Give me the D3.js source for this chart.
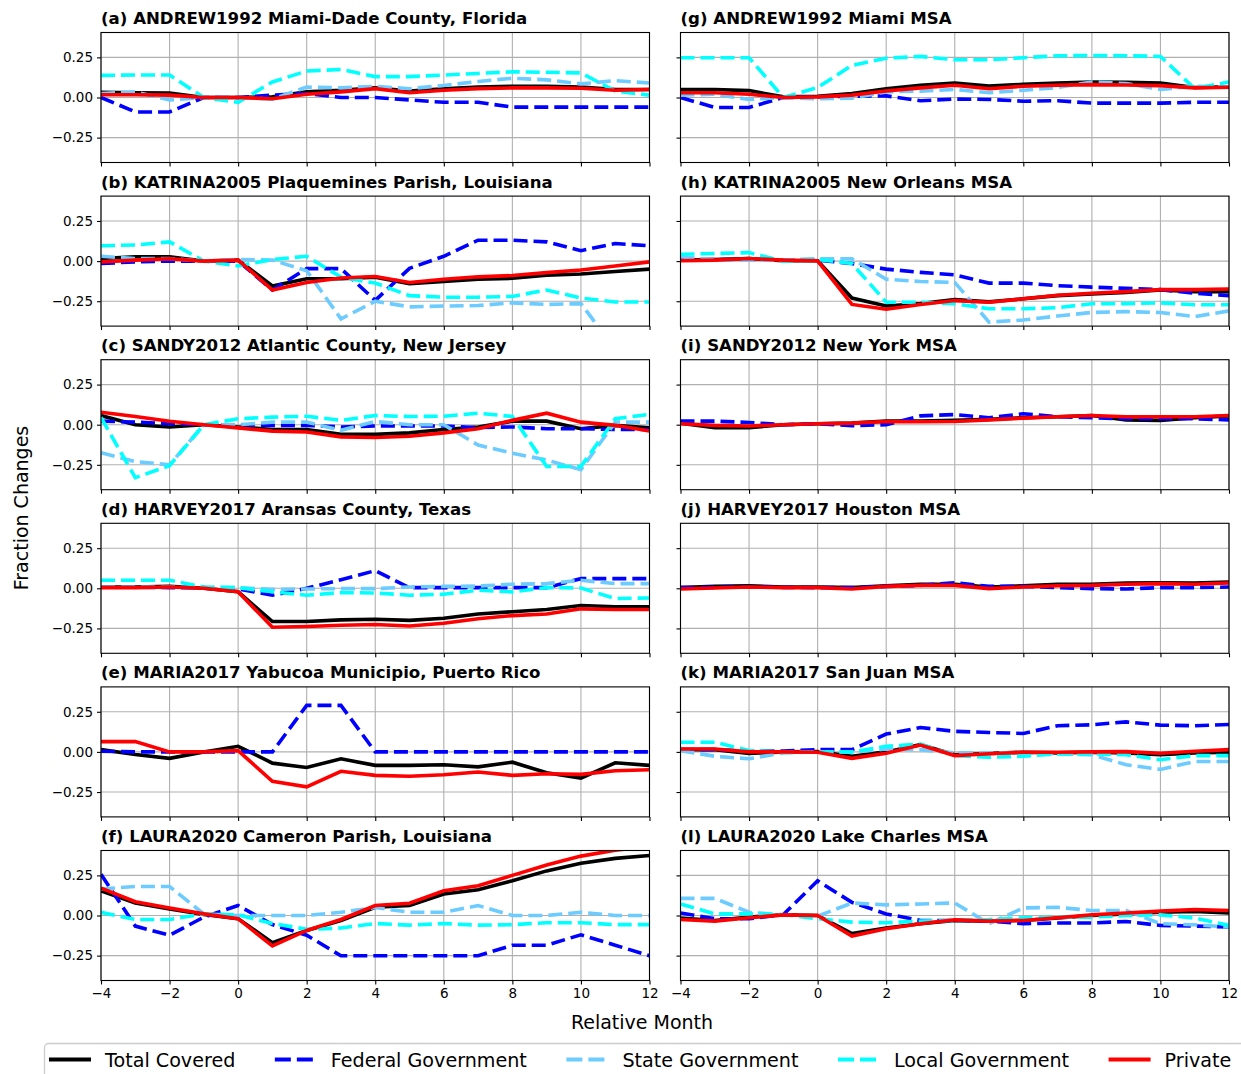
<!DOCTYPE html>
<html>
<head>
<meta charset="utf-8">
<script src="https://cdn.jsdelivr.net/npm/d3@7"></script>
<style>
  body { margin: 0; background: #fff; }
  svg { display: block; font-family: "DejaVu Sans", sans-serif; }
</style>
</head>
<body>
<svg id="svg" width="1241" height="1074"></svg>
<script>

// relative month (x axis)
var months = [-4, -3, -2, -1, 0, 1, 2, 3, 4, 5, 6, 7, 8, 9, 10, 11, 12];
var xTicks = [-4, -2, 0, 2, 4, 6, 8, 10, 12];
var yTicks = [-0.25, 0, 0.25];

var seriesNames = ["Total Covered", "Federal Government", "State Government", "Local Government", "Private"];
var seriesColors = ["#000000", "#0000ff", "#6ccbff", "#00ffff", "#ff0000"];
var seriesDashed = [false, true, true, true, false];

var titles = [
  "(a) ANDREW1992 Miami-Dade County, Florida",
  "(b) KATRINA2005 Plaquemines Parish, Louisiana",
  "(c) SANDY2012 Atlantic County, New Jersey",
  "(d) HARVEY2017 Aransas County, Texas",
  "(e) MARIA2017 Yabucoa Municipio, Puerto Rico",
  "(f) LAURA2020 Cameron Parish, Louisiana",
  "(g) ANDREW1992 Miami MSA",
  "(h) KATRINA2005 New Orleans MSA",
  "(i) SANDY2012 New York MSA",
  "(j) HARVEY2017 Houston MSA",
  "(k) MARIA2017 San Juan MSA",
  "(l) LAURA2020 Lake Charles MSA"
];

// (a) Miami-Dade County
var aTotal   = [0.033,0.03,0.027,0,0,0.005,0.035,0.045,0.06,0.04,0.055,0.065,0.07,0.07,0.065,0.05,0.05];
var aFederal = [0,-0.09,-0.09,0,0,0.015,0.025,0,0,-0.015,-0.03,-0.03,-0.06,-0.06,-0.06,-0.06,-0.06];
var aState   = [0.025,0.035,-0.015,0,0,-0.01,0.065,0.06,0.07,0.055,0.075,0.1,0.12,0.11,0.085,0.105,0.09];
var aLocal   = [0.138,0.14,0.14,0,-0.03,0.097,0.165,0.175,0.13,0.13,0.14,0.15,0.16,0.157,0.153,0.04,0.015];
var aPrivate = [0.017,0.017,0.015,0,0,-0.008,0.02,0.035,0.055,0.03,0.045,0.055,0.06,0.06,0.058,0.045,0.05];

// (b) Plaquemines Parish
var bTotal   = [0.016,0.027,0.027,0,0.006,-0.155,-0.11,-0.11,-0.1,-0.14,-0.127,-0.113,-0.107,-0.088,-0.08,-0.065,-0.05];
var bFederal = [-0.015,-0.005,0,0,0,-0.18,-0.047,-0.047,-0.245,-0.045,0.03,0.13,0.13,0.12,0.065,0.11,0.095];
var bState   = [0.03,0.016,0.016,0,0.01,0.006,-0.06,-0.36,-0.25,-0.285,-0.28,-0.277,-0.26,-0.27,-0.265,-0.55,-0.55];
var bLocal   = [0.096,0.1,0.12,0,-0.03,0.01,0.03,-0.1,-0.137,-0.215,-0.225,-0.225,-0.22,-0.18,-0.23,-0.255,-0.255];
var bPrivate = [-0.005,0.006,0.015,0,0.006,-0.18,-0.133,-0.105,-0.096,-0.133,-0.113,-0.098,-0.09,-0.072,-0.055,-0.03,-0.005];

// (c) Atlantic County
var cTotal   = [0.057,0,-0.014,0,-0.014,-0.03,-0.03,-0.06,-0.06,-0.051,-0.03,-0.014,0.022,0.022,-0.025,-0.004,-0.02];
var cFederal = [0.022,0.016,0.006,0,0,-0.004,-0.004,-0.014,-0.008,-0.008,-0.008,-0.018,-0.014,-0.025,-0.025,-0.03,-0.03];
var cState   = [-0.174,-0.23,-0.25,0,0,0.016,0.016,-0.035,0.02,0,0,-0.127,-0.178,-0.22,-0.28,0.016,0.016];
var cLocal   = [0.045,-0.33,-0.255,0,0.037,0.047,0.053,0.027,0.057,0.051,0.053,0.072,0.051,-0.26,-0.26,0.037,0.064];
var cPrivate = [0.078,0.051,0.022,0,-0.02,-0.04,-0.045,-0.076,-0.08,-0.072,-0.051,-0.025,0.027,0.072,0.016,-0.004,-0.039];

// (d) Aransas County
var dTotal   = [0.008,0.008,0.012,0,-0.022,-0.207,-0.207,-0.197,-0.193,-0.2,-0.187,-0.16,-0.146,-0.132,-0.107,-0.115,-0.115];
var dFederal = [0.008,0.008,0.004,0.004,-0.004,-0.043,0,0.053,0.11,0.004,0.004,0.004,0.004,0.004,0.06,0.06,0.06];
var dState   = [0.008,0.008,0.008,0.004,0.004,-0.006,-0.004,-0.002,-0.002,0.008,0.012,0.014,0.025,0.029,0.05,0.029,0.029];
var dLocal   = [0.05,0.05,0.05,0.008,0.004,-0.022,-0.043,-0.027,-0.029,-0.043,-0.037,-0.012,-0.022,0.004,0.002,-0.064,-0.06];
var dPrivate = [0.004,0.004,0.008,0,-0.022,-0.243,-0.238,-0.23,-0.226,-0.235,-0.218,-0.19,-0.17,-0.16,-0.128,-0.132,-0.132];

// (e) Yabucoa Municipio
var eTotal   = [0.014,-0.016,-0.04,0,0.035,-0.07,-0.097,-0.043,-0.084,-0.084,-0.08,-0.093,-0.064,-0.13,-0.163,-0.068,-0.084];
var eFederal = [0.004,0,0,0,0,0,0.29,0.29,0,0,0,0,0,0,0,0,0];
var ePrivate = [0.064,0.064,0,0,0.008,-0.183,-0.218,-0.121,-0.146,-0.152,-0.142,-0.125,-0.146,-0.136,-0.14,-0.117,-0.111];

// (f) Cameron Parish
var fTotal   = [0.154,0.078,0.041,0.006,-0.02,-0.169,-0.093,-0.031,0.051,0.062,0.134,0.16,0.216,0.278,0.325,0.356,0.374];
var fFederal = [0.257,-0.066,-0.123,-0.01,0.062,-0.056,-0.123,-0.251,-0.251,-0.251,-0.251,-0.251,-0.185,-0.185,-0.12,-0.185,-0.251];
var fState   = [0.165,0.181,0.181,0.01,0,0,0,0.02,0.05,0.02,0.02,0.062,0,0,0.02,0,0];
var fLocal   = [0.02,-0.025,-0.025,0.01,0.004,-0.05,-0.086,-0.078,-0.05,-0.06,-0.05,-0.06,-0.057,-0.045,-0.045,-0.057,-0.057];
var fPrivate = [0.171,0.086,0.047,0.01,-0.02,-0.19,-0.093,-0.025,0.062,0.076,0.154,0.185,0.25,0.315,0.37,0.407,0.43];

// (g) Miami MSA
var gTotal   = [0.05,0.05,0.043,0.004,0.008,0.025,0.055,0.076,0.09,0.072,0.082,0.09,0.097,0.095,0.09,0.062,0.066];
var gFederal = [0,-0.062,-0.062,0,0.004,0.008,0.01,-0.02,-0.01,-0.012,-0.023,-0.02,-0.035,-0.035,-0.035,-0.03,-0.03];
var gState   = [0.015,0.02,-0.012,0,-0.008,-0.004,0.035,0.04,0.05,0.03,0.045,0.062,0.097,0.087,0.05,0.07,0.066];
var gLocal   = [0.248,0.248,0.248,0,0.062,0.2,0.245,0.256,0.235,0.235,0.248,0.26,0.262,0.26,0.256,0.055,0.097];
var gPrivate = [0.03,0.03,0.02,0,0.004,0.015,0.04,0.06,0.076,0.055,0.07,0.076,0.08,0.078,0.074,0.06,0.064];

// (h) New Orleans MSA
var hTotal   = [0.006,0.01,0.016,0.002,0.002,-0.23,-0.28,-0.265,-0.24,-0.254,-0.235,-0.215,-0.205,-0.195,-0.18,-0.19,-0.19];
var hFederal = [0.01,0.01,0.01,0.006,0.006,-0.015,-0.05,-0.07,-0.086,-0.137,-0.137,-0.153,-0.162,-0.17,-0.178,-0.2,-0.215];
var hState   = [0.027,0.006,0.006,0.006,0.015,0.015,-0.113,-0.127,-0.133,-0.38,-0.367,-0.342,-0.32,-0.315,-0.32,-0.346,-0.31];
var hLocal   = [0.043,0.047,0.053,0,0.01,-0.015,-0.256,-0.256,-0.265,-0.297,-0.297,-0.29,-0.266,-0.265,-0.26,-0.272,-0.272];
var hPrivate = [0.002,0.006,0.016,0.006,0.002,-0.27,-0.3,-0.27,-0.246,-0.256,-0.235,-0.213,-0.2,-0.19,-0.178,-0.178,-0.174];

// (i) New York MSA
var iTotal   = [0.01,-0.018,-0.018,0,0.006,0.01,0.022,0.022,0.027,0.033,0.043,0.05,0.057,0.03,0.027,0.043,0.055];
var iFederal = [0.022,0.022,0.014,0,0.006,-0.006,0,0.055,0.063,0.043,0.068,0.05,0.043,0.037,0.037,0.037,0.03];
var iPrivate = [0.006,-0.004,-0.008,0,0.006,0.01,0.02,0.018,0.02,0.03,0.041,0.05,0.057,0.05,0.05,0.05,0.057];

// (j) Houston MSA
var jTotal   = [0.004,0.012,0.016,0.008,0.008,0.004,0.016,0.025,0.025,0.008,0.016,0.025,0.025,0.033,0.035,0.033,0.039];
var jFederal = [0.004,0.006,0.008,0.006,0.004,0.004,0.012,0.018,0.035,0.012,0.012,0.004,-0.002,-0.004,0.004,0.004,0.008];
var jPrivate = [-0.004,0.002,0.008,0.004,0.004,-0.004,0.012,0.018,0.018,-0.002,0.008,0.016,0.018,0.025,0.029,0.025,0.033];

// (k) San Juan MSA
var kTotal   = [0.014,0.014,-0.01,0,0.002,-0.027,0,0.045,-0.018,-0.01,-0.002,-0.006,-0.002,-0.006,-0.018,-0.006,-0.002];
var kFederal = [0.014,0.014,0.004,0.006,0.014,0.014,0.111,0.152,0.128,0.121,0.115,0.163,0.169,0.187,0.167,0.163,0.171];
var kState   = [0.008,-0.027,-0.043,-0.006,0,0,0.018,0.014,-0.006,-0.006,-0.006,-0.012,-0.018,-0.08,-0.109,-0.06,-0.06];
var kLocal   = [0.06,0.06,0.008,0,0,0,0.035,0.049,-0.023,-0.033,-0.027,-0.012,-0.012,-0.018,-0.049,-0.023,-0.023];
var kPrivate = [0.018,0.018,0,0,-0.002,-0.04,-0.008,0.043,-0.023,-0.012,-0.002,-0.002,0,0.002,-0.008,0.004,0.014];

// (l) Lake Charles MSA
var lTotal   = [-0.016,-0.031,-0.01,0.004,0,-0.113,-0.078,-0.051,-0.031,-0.035,-0.031,-0.016,0,0.01,0.02,0.025,0.016];
var lFederal = [0.016,-0.02,-0.02,0.006,0.216,0.082,0.01,-0.031,-0.031,-0.035,-0.051,-0.047,-0.047,-0.037,-0.062,-0.066,-0.072];
var lState   = [0.107,0.107,0.02,0.004,-0.004,0.078,0.066,0.072,0.078,-0.051,0.047,0.051,0.031,0.031,-0.051,-0.058,-0.072];
var lLocal   = [0.072,0.01,0.01,0.006,-0.02,-0.041,-0.045,-0.035,-0.031,-0.025,-0.014,-0.01,-0.01,0,0.004,-0.016,-0.062];
var lPrivate = [-0.025,-0.035,-0.014,0.004,0,-0.128,-0.082,-0.051,-0.027,-0.035,-0.031,-0.014,0.004,0.016,0.027,0.037,0.031];

// series per panel, in legend order (null = not plotted)
var panelSeries = [
  [aTotal, aFederal, aState, aLocal, aPrivate],
  [bTotal, bFederal, bState, bLocal, bPrivate],
  [cTotal, cFederal, cState, cLocal, cPrivate],
  [dTotal, dFederal, dState, dLocal, dPrivate],
  [eTotal, eFederal, null, null, ePrivate],
  [fTotal, fFederal, fState, fLocal, fPrivate],
  [gTotal, gFederal, gState, gLocal, gPrivate],
  [hTotal, hFederal, hState, hLocal, hPrivate],
  [iTotal, iFederal, null, null, iPrivate],
  [jTotal, jFederal, null, null, jPrivate],
  [kTotal, kFederal, kState, kLocal, kPrivate],
  [lTotal, lFederal, lState, lLocal, lPrivate]
];

function main() {
  var svg = d3.select("#svg");

  var colLeft = [101, 680.5];
  var plotW = 548.5;
  var plotH = 130;
  var rowTop0 = 32.5, rowStep = 163.6;
  var lineW = 3.6;
  var dash = "14,6";

  var x = d3.scaleLinear().domain([-4, 12]).range([0, plotW]);
  var y = d3.scaleLinear().domain([-0.405, 0.405]).range([plotH, 0]);

  var fmtY = function (v) { return d3.format(".2f")(v).replace("-", "\u2212"); };
  var fmtX = function (v) { return String(v).replace("-", "\u2212"); };

  var line = d3.line()
    .defined(function (d) { return d != null; })
    .x(function (d, i) { return x(months[i]); })
    .y(function (d) { return y(d); });

  titles.forEach(function (title, p) {
    var col = Math.floor(p / 6), row = p % 6;
    var left = colLeft[col], top = rowTop0 + row * rowStep;
    var g = svg.append("g").attr("transform", "translate(" + left + "," + top + ")");

    g.append("defs").append("clipPath").attr("id", "clip" + p)
      .append("rect").attr("width", plotW).attr("height", plotH);

    // grid
    g.append("g").selectAll("line").data(xTicks).enter().append("line")
      .attr("x1", function (d) { return x(d); }).attr("x2", function (d) { return x(d); })
      .attr("y1", 0).attr("y2", plotH)
      .attr("stroke", "#b0b0b0").attr("stroke-width", 1.1);
    g.append("g").selectAll("line").data(yTicks).enter().append("line")
      .attr("y1", function (d) { return y(d); }).attr("y2", function (d) { return y(d); })
      .attr("x1", 0).attr("x2", plotW)
      .attr("stroke", "#b0b0b0").attr("stroke-width", 1.1);

    // series
    var lines = g.append("g").attr("clip-path", "url(#clip" + p + ")");
    panelSeries[p].forEach(function (vals, s) {
      if (!vals) return;
      lines.append("path")
        .attr("d", line(vals))
        .attr("fill", "none")
        .attr("stroke", seriesColors[s])
        .attr("stroke-width", lineW)
        .attr("stroke-linejoin", "miter")
        .attr("stroke-dasharray", seriesDashed[s] ? dash : null);
    });

    // axes
    var xAxis = d3.axisBottom(x).tickValues(xTicks).tickSizeOuter(0).tickSize(4).tickPadding(4)
      .tickFormat(row === 5 ? fmtX : "");
    var yAxis = d3.axisLeft(y).tickValues(yTicks).tickSizeOuter(0).tickSize(4).tickPadding(4)
      .tickFormat(col === 0 ? fmtY : "");
    var xa = g.append("g").attr("transform", "translate(0," + plotH + ")").call(xAxis);
    var ya = g.append("g").call(yAxis);
    [xa, ya].forEach(function (a) {
      a.select(".domain").remove();
      a.selectAll("line").attr("stroke", "#000").attr("stroke-width", 1.1);
      a.selectAll("text").attr("fill", "#000").style("font-size", "13.5px")
        .style("font-family", "DejaVu Sans");
    });

    g.append("rect").attr("width", plotW).attr("height", plotH)
      .attr("fill", "none").attr("stroke", "#000").attr("stroke-width", 1.1);

    g.append("text").attr("x", 0).attr("y", -8.5)
      .style("font-size", "16.6px").style("font-weight", "bold")
      .text(title);
  });

  // axis labels
  svg.append("text").attr("x", 642).attr("y", 1029)
    .attr("text-anchor", "middle").style("font-size", "19px").text("Relative Month");
  svg.append("text").attr("transform", "translate(28,508) rotate(-90)")
    .attr("text-anchor", "middle").style("font-size", "19px").text("Fraction Changes");

  // legend
  var leg = svg.append("g");
  leg.append("rect").attr("x", 44.5).attr("y", 1043.5).attr("width", 1260).attr("height", 60)
    .attr("rx", 4).attr("fill", "#fff").attr("stroke", "#cccccc").attr("stroke-width", 1.3);
  var lx = 49;
  seriesNames.forEach(function (name, s) {
    leg.append("line").attr("x1", lx).attr("x2", lx + 42).attr("y1", 1059.5).attr("y2", 1059.5)
      .attr("stroke", seriesColors[s]).attr("stroke-width", lineW + 0.4)
      .attr("stroke-dasharray", seriesDashed[s] ? "16,6" : null);
    var t = leg.append("text").attr("x", lx + 56).attr("y", 1066.5)
      .style("font-size", "19.15px").text(name);
    lx = lx + 56 + t.node().getComputedTextLength() + 39.5;
  });
}

main();
</script>
</body>
</html>
